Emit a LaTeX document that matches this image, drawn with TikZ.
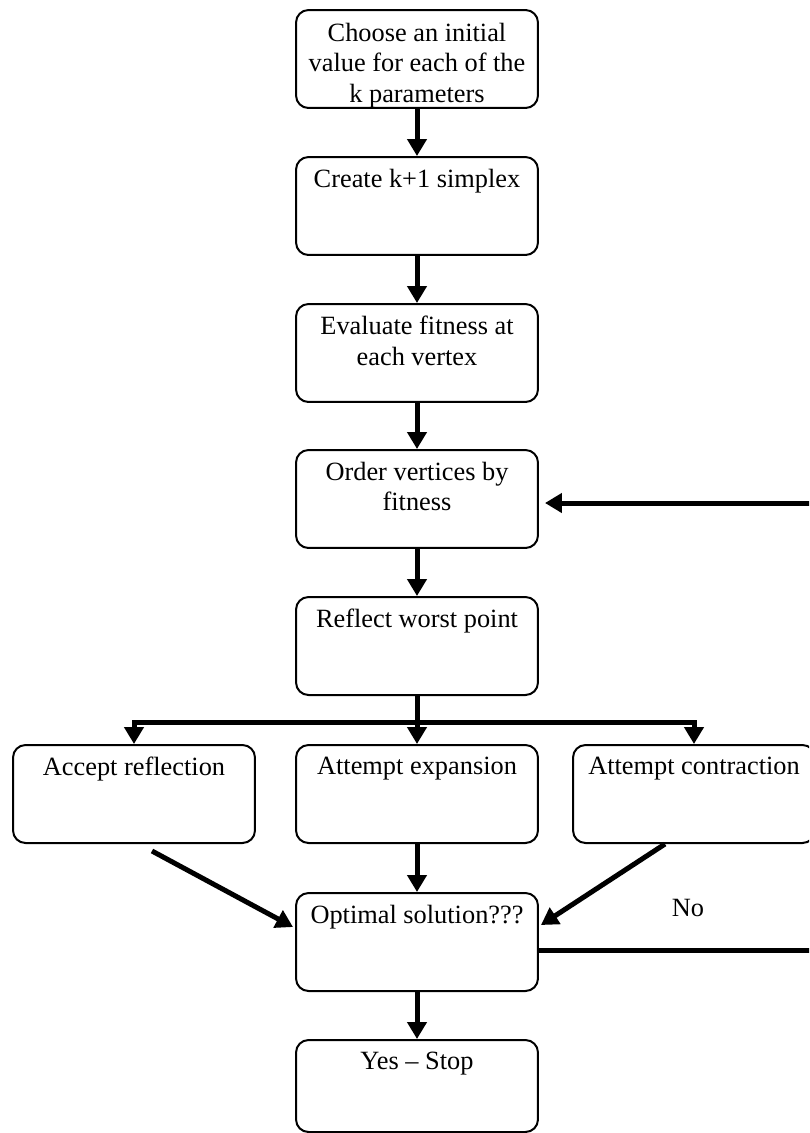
\documentclass[tikz,border=0pt]{standalone}
\usepackage{fontspec}
\setmainfont{Liberation Serif}
\usetikzlibrary{arrows.meta,positioning,calc}

\tikzset{
 flowbox/.style={draw,line width=0.04cm,rounded corners=0.25cm,minimum width=4.84cm,minimum height=1.96cm,inner sep=0pt},
 flowtext/.style={align=center,inner sep=0pt,font=\fontsize{15}{17.2}\selectfont},
 flowline/.style={line width=0.1cm},
 flowarrow/.style={line width=0.1cm,-{Triangle[width=0.38cm,length=0.34cm]}},
}

\begin{document}
\begin{tikzpicture}[x=0.02cm,y=-0.02cm]
\clip (0,0) rectangle (809,1133);

% main column
\node[flowbox] (init) at (417,59) {};
\node[flowtext,below=0.28cm of init.north] (initt) {Choose an initial\\value for each of the\\k parameters};

\node[flowbox] (simplex) at (417,206) {};
\node[flowtext,below=0.26cm of simplex.north] (simplext) {Create k+1 simplex};

\node[flowbox] (evaluate) at (417,353) {};
\node[flowtext,below=0.26cm of evaluate.north] (evaluatet) {Evaluate fitness at\\each vertex};

\node[flowbox] (order) at (417,499) {};
\node[flowtext,below=0.26cm of order.north] (ordert) {Order vertices by\\fitness};

\node[flowbox] (reflect) at (417,646) {};
\node[flowtext,below=0.26cm of reflect.north] (reflectt) {Reflect worst point};

% three branches
\node[flowbox] (accept) at (134,794) {};
\node[flowtext,below=0.26cm of accept.north] (acceptt) {Accept reflection};

\node[flowbox] (expand) at (417,794) {};
\node[flowtext,below=0.26cm of expand.north] (expandt) {Attempt expansion};

\node[flowbox] (contract) at (694,794) {};
\node[flowtext,below=0.26cm of contract.north] (contractt) {Attempt contraction};

\node[flowbox] (optimal) at (417,942) {};
\node[flowtext,below=0.26cm of optimal.north] (optimalt) {Optimal solution???};

\node[flowbox,minimum height=1.84cm] (stop) at (417,1086) {};
\node[flowtext,below=0.26cm of stop.north] (stopt) {Yes – Stop};

\node[flowtext] (no) at (688,908) {No};

\draw[flowarrow] (init.south) -- (simplex.north);
\draw[flowarrow] (simplex.south) -- (evaluate.north);
\draw[flowarrow] (evaluate.south) -- (order.north);
\draw[flowarrow] (order.south) -- (reflect.north);

\coordinate (split) at (417,722);
\draw[flowline] (reflect.south) -- (split);
\draw[flowarrow] (split) -- (expand.north);
\draw[flowarrow] (split) -| (accept.north);
\draw[flowarrow] (split) -| (contract.north);

\draw[flowarrow] ($(accept.south)+(18,7)$) -- ($(optimal.west)+(-2,-15)$);
\draw[flowarrow] (expand.south) -- (optimal.north);
\draw[flowarrow] ($(contract.south)+(-29,0)$) -- ($(optimal.east)+(2,-17)$);
\draw[flowarrow] (optimal.south) -- (stop.north);

% loop back (turns outside the page)
\coordinate (noturn) at (830,950);
\coordinate (backturn) at (830,503);
\draw[flowarrow,shorten >=0.12cm] ($(optimal.east)+(0,8)$) -- (noturn) -- (backturn) -- ($(order.east)+(0,4)$);
\end{tikzpicture}
\end{document}
